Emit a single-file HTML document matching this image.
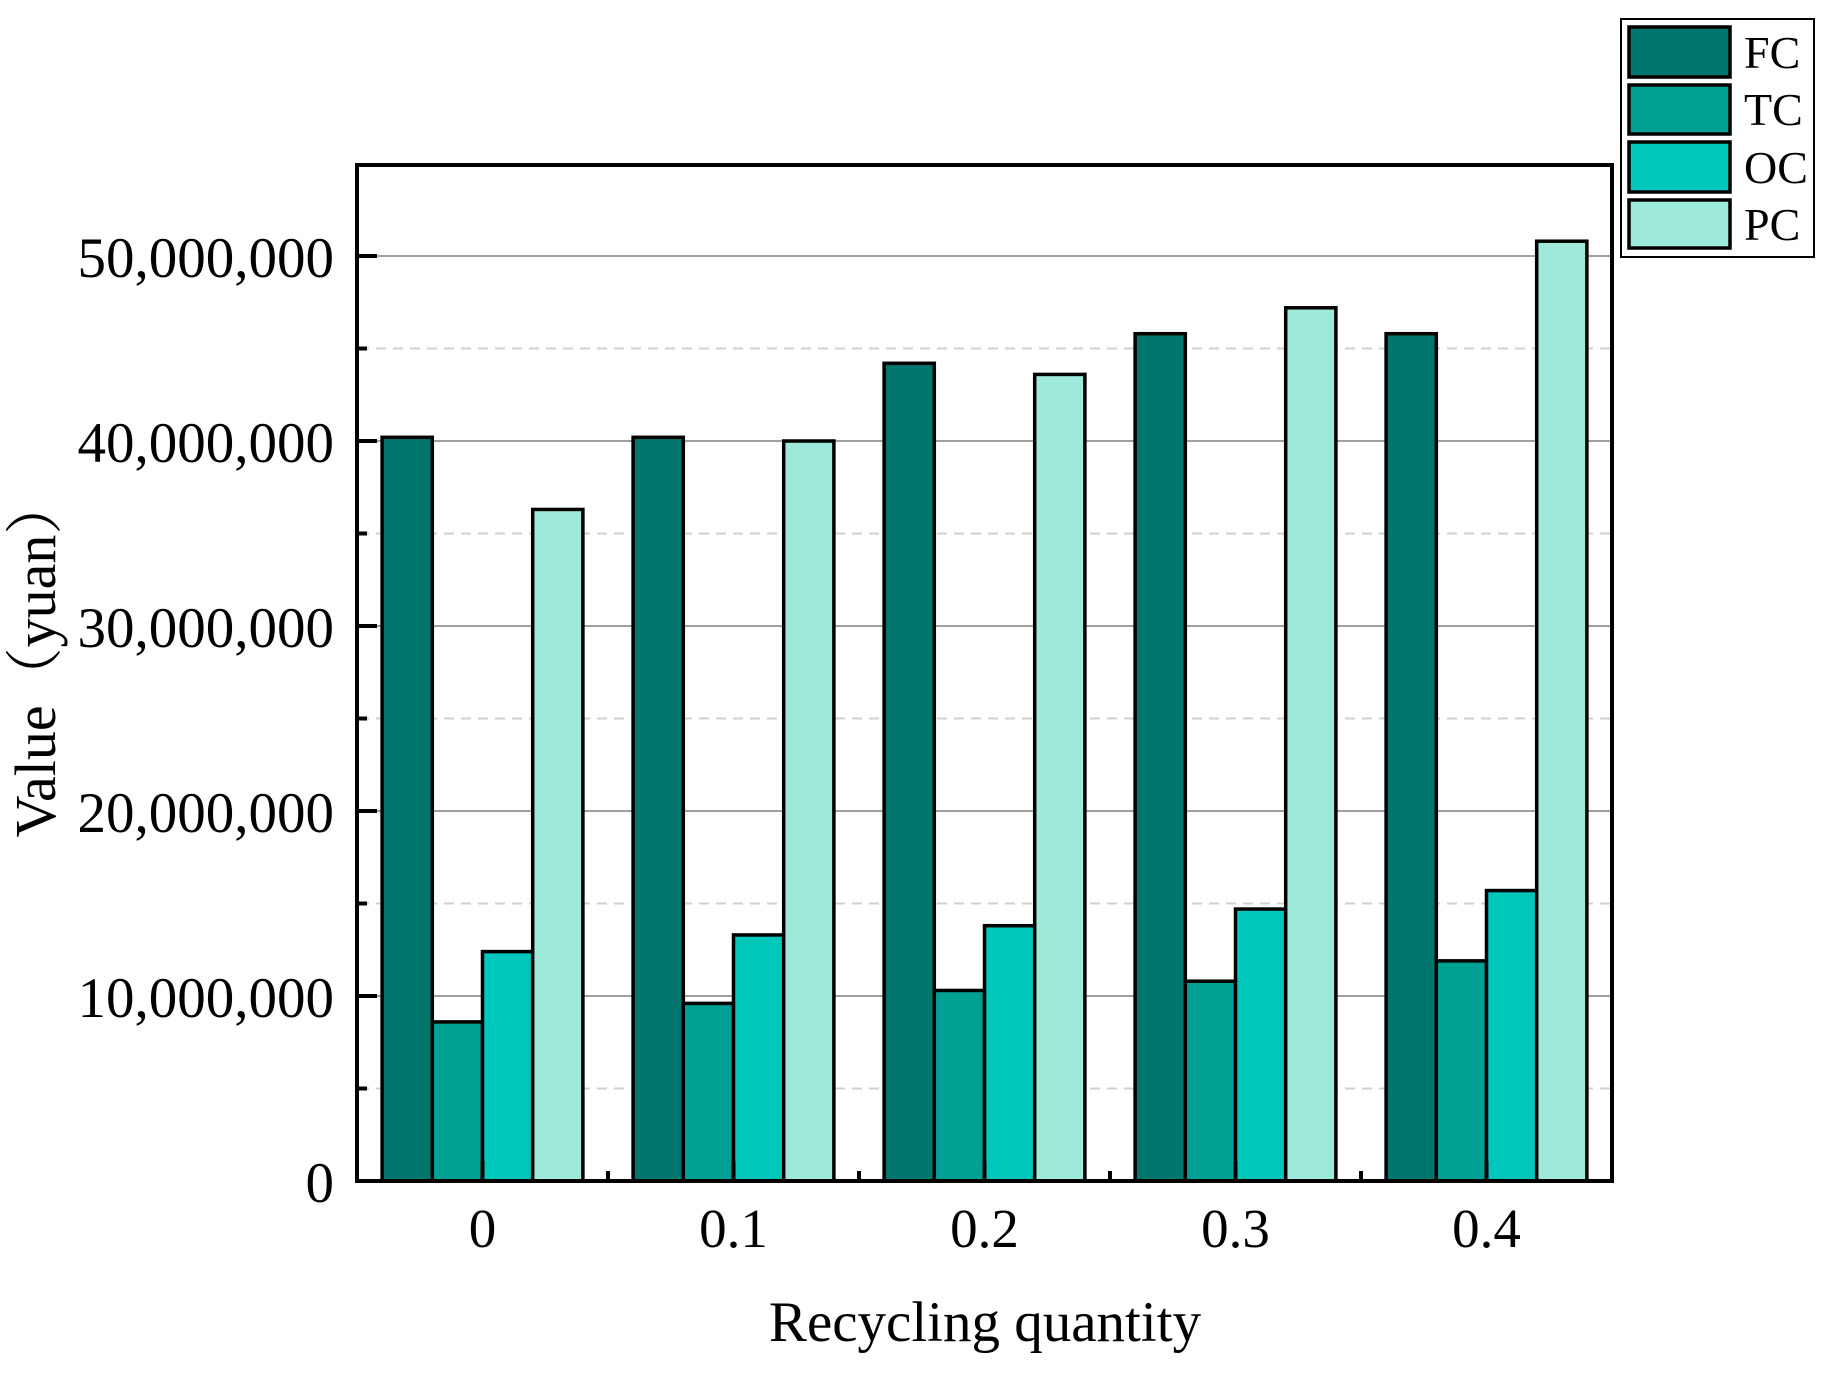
<!DOCTYPE html>
<html><head><meta charset="utf-8"><style>
html,body{margin:0;padding:0;background:#fff;}
svg{display:block;font-family:"Liberation Serif","Noto Serif CJK SC",serif;}
</style></head><body>
<svg width="1837" height="1375" viewBox="0 0 1837 1375" xmlns="http://www.w3.org/2000/svg">
<rect width="1837" height="1375" fill="#fff"/>
<g stroke="#d0d0d0" stroke-width="2" stroke-dasharray="10,7">
<line x1="359" x2="1610" y1="1088.5" y2="1088.5"/>
<line x1="359" x2="1610" y1="903.5" y2="903.5"/>
<line x1="359" x2="1610" y1="718.5" y2="718.5"/>
<line x1="359" x2="1610" y1="533.5" y2="533.5"/>
<line x1="359" x2="1610" y1="348.5" y2="348.5"/>
</g>
<g stroke="#a0a0a0" stroke-width="2">
<line x1="359" x2="1610" y1="996" y2="996"/>
<line x1="359" x2="1610" y1="811" y2="811"/>
<line x1="359" x2="1610" y1="626" y2="626"/>
<line x1="359" x2="1610" y1="441" y2="441"/>
<line x1="359" x2="1610" y1="256" y2="256"/>
</g>
<g stroke="#000" stroke-width="3.5" id="bars">
</g>
<script>
(function(){
var vals=[[40.2,8.6,12.4,36.3],[40.2,9.6,13.3,40.0],[44.2,10.3,13.8,43.6],[45.8,10.8,14.7,47.2],[45.8,11.9,15.7,50.8]];
var cols=["#00766c","#00a094","#00c7bb","#9eeada"];
var g=document.getElementById("bars");var ns="http://www.w3.org/2000/svg";
for(var i=0;i<5;i++){var c=357+125.5+251*i;var s=c-100.4;
for(var j=0;j<4;j++){var x=s+50.2*j;var y=1181-vals[i][j]*18.5;
var r=document.createElementNS(ns,"rect");r.setAttribute("x",x);r.setAttribute("y",y);
r.setAttribute("width",50.2);r.setAttribute("height",1181-y);r.setAttribute("fill",cols[j]);g.appendChild(r);}}
})();
</script>
<rect x="357" y="165" width="1255" height="1016" fill="none" stroke="#000" stroke-width="4"/>
<g stroke="#000" stroke-width="4">
<line x1="357" x2="377" y1="996" y2="996"/><line x1="357" x2="377" y1="811" y2="811"/>
<line x1="357" x2="377" y1="626" y2="626"/><line x1="357" x2="377" y1="441" y2="441"/>
<line x1="357" x2="377" y1="256" y2="256"/>
<line x1="357" x2="367" y1="1088.5" y2="1088.5"/><line x1="357" x2="367" y1="903.5" y2="903.5"/>
<line x1="357" x2="367" y1="718.5" y2="718.5"/><line x1="357" x2="367" y1="533.5" y2="533.5"/>
<line x1="357" x2="367" y1="348.5" y2="348.5"/>
<line x1="482.5" x2="482.5" y1="1181" y2="1161"/><line x1="733.5" x2="733.5" y1="1181" y2="1161"/>
<line x1="984.5" x2="984.5" y1="1181" y2="1161"/><line x1="1235.5" x2="1235.5" y1="1181" y2="1161"/>
<line x1="1486.5" x2="1486.5" y1="1181" y2="1161"/>
<line x1="608" x2="608" y1="1181" y2="1171"/><line x1="859" x2="859" y1="1181" y2="1171"/>
<line x1="1110" x2="1110" y1="1181" y2="1171"/><line x1="1361" x2="1361" y1="1181" y2="1171"/>
</g>
<g font-size="57" text-anchor="end" fill="#000">
<text x="334" y="1202">0</text>
<text x="334" y="1017">10,000,000</text>
<text x="334" y="832">20,000,000</text>
<text x="334" y="647">30,000,000</text>
<text x="334" y="462">40,000,000</text>
<text x="334" y="277">50,000,000</text>
</g>
<g font-size="55" text-anchor="middle" fill="#000">
<text x="482.5" y="1247">0</text><text x="733.5" y="1247">0.1</text>
<text x="984.5" y="1247">0.2</text><text x="1235.5" y="1247">0.3</text>
<text x="1486.5" y="1247">0.4</text>
</g>
<text x="985" y="1341" font-size="57" text-anchor="middle">Recycling quantity</text>
<text transform="translate(55,657) rotate(-90)" font-size="58" text-anchor="middle">Value（yuan）</text>
<rect x="1621" y="19" width="193" height="238" fill="#fff" stroke="#000" stroke-width="2"/>
<g stroke="#000" stroke-width="3.5">
<rect x="1629" y="27" width="101" height="50" fill="#00766c"/>
<rect x="1629" y="85" width="101" height="49" fill="#00a094"/>
<rect x="1629" y="142" width="101" height="50" fill="#00c7bb"/>
<rect x="1629" y="200" width="101" height="48" fill="#9eeada"/>
</g>
<g font-size="46" fill="#000">
<text x="1744" y="68">FC</text><text x="1744" y="125">TC</text>
<text x="1744" y="183">OC</text><text x="1744" y="240">PC</text>
</g>
</svg>
</body></html>
